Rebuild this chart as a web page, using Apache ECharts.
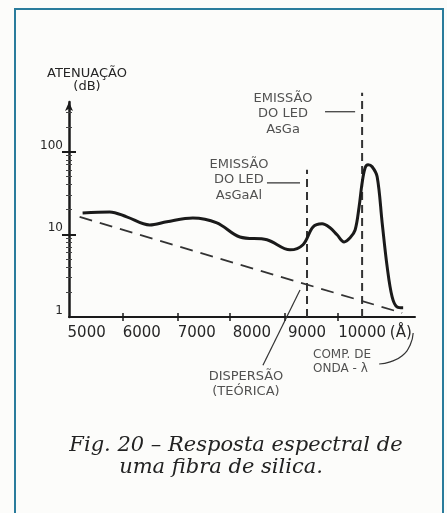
<!DOCTYPE html>
<html><head><meta charset="utf-8">
<script src="https://cdn.jsdelivr.net/npm/echarts@6/dist/echarts.min.js"></script>
<style>
html,body{margin:0;padding:0;background:#fcfcfa;}
#wrap{position:relative;width:447px;height:513px;overflow:hidden;background:#fcfcfa;}
#chart{position:absolute;left:0;top:0;width:447px;height:513px;}
#frame{position:absolute;left:14px;top:8px;width:426px;height:520px;border:2px solid #2a7c9c;border-bottom:none;pointer-events:none;}
</style></head>
<body><div id="wrap"><div id="chart"></div><div id="frame"></div></div>
<script>
// ---- data ----
const xLabels = [5000, 6000, 7000, 8000, 9000, 10000];
const xTickValues = [5650, 6650, 7600, 8600, 9550];
const yLabels = [1, 10, 100];
const yMajorTicks = [10, 100];
const yMinorTicks = [2,3,4,5,6,7,8,9,20,30,40,50,60,70,80,90,200,300];
const wavelength = [4927, 5418, 5727, 6145, 6455, 6927, 7364, 7782, 8273, 8691, 8927, 9109, 9273, 9418, 9545, 9673, 9782, 9873, 9945, 10000, 10055, 10109, 10182, 10273, 10364, 10455, 10545, 10636, 10745];
const attenuation = [18.2, 18.7, 16.3, 13.0, 14.2, 15.8, 13.8, 9.3, 8.6, 6.5, 7.5, 12.3, 13.4, 12.0, 9.9, 8.1, 9.1, 11.3, 21.5, 42, 64, 69.6, 65.8, 49.8, 13.8, 4.04, 1.75, 1.32, 1.29];
const dispersionX = [4873, 10727];
const dispersionY = [16.3, 1.12];
const ledAsGaAlX = [9000, 9000];
const ledAsGaAlY = [1, 60.5];
const ledAsGaX = [10000, 10000];
const ledAsGaY = [1, 519];
const leaderAsGaX = [9327, 9873];
const leaderAsGaY = [305, 305];
const leaderAsGaAlX = [8273, 8873];
const leaderAsGaAlY = [42, 42];
const leaderDispX = [8873, 8200];
const leaderDispY = [2.12, 0.26];
const leaderCompX = [10927, 10873, 10727, 10509, 10309];
const leaderCompY = [0.64, 0.46, 0.34, 0.286, 0.27];
const annoText = ['EMISSÃO\nDO LED\nAsGa', 'EMISSÃO\nDO LED\nAsGaAl', 'DISPERSÃO\n(TEÓRICA)', 'COMP. DE\nONDA - λ'];
const annoX = [8564, 7764, 7891, 9109];
const annoY = [289, 45.8, 0.154, 0.285];

const zip = (a, b) => a.map((v, i) => [v, b[i]]);
const INK = '#1a1a1a', TXT = '#262626', SANS = 'DejaVu Sans';

const chart = echarts.init(document.getElementById('chart'), null, {renderer: 'canvas'});
const lineBase = (name, xs, ys, style, extra) => Object.assign({
  type: 'line', name, data: zip(xs, ys), showSymbol: false, symbol: 'none', clip: false,
  lineStyle: style, silent: true, animation: false, z: 3
}, extra || {});

const annoAlign = ['center', 'center', 'center', 'left'];
const annoSize = [13, 13, 13, 12];

chart.setOption({
  animation: false,
  backgroundColor: 'transparent',
  title: [
    {text: 'Fig. 20 – Resposta espectral de', left: 231, top: 430, textAlign: 'center',
     textStyle: {fontFamily: 'DejaVu Serif', fontStyle: 'italic', fontWeight: 'normal', fontSize: 21, color: '#222'}},
    {text: 'uma fibra de silica.', left: 216, top: 452, textAlign: 'center',
     textStyle: {fontFamily: 'DejaVu Serif', fontStyle: 'italic', fontWeight: 'normal', fontSize: 21, color: '#222'}}
  ],
  grid: {left: 69, right: 32, top: 102, bottom: 196},
  xAxis: [{
    type: 'value', min: 4680, max: 10960, position: 'bottom',
    axisLine: {show: true, lineStyle: {color: INK, width: 2}},
    axisTick: {show: true, customValues: xTickValues, length: 4, lineStyle: {color: INK, width: 1.5}},
    axisLabel: {customValues: xLabels, formatter: v => String(v), margin: 9, fontFamily: SANS, fontSize: 15, color: TXT},
    splitLine: {show: false},
    name: '(Å)', nameLocation: 'end', nameGap: -5,
    nameTextStyle: {align: 'right', verticalAlign: 'top', padding: [9, 0, 0, 0], fontFamily: SANS, fontSize: 15, color: TXT}
  }, {
    type: 'value', min: 4680, max: 10960, position: 'bottom',
    axisLine: {show: false},
    axisTick: {show: true, inside: true, customValues: xTickValues, length: 4, lineStyle: {color: INK, width: 1.5}},
    axisLabel: {show: false}, splitLine: {show: false}
  }],
  yAxis: [{
    type: 'log', logBase: 10, min: 1, max: 400, position: 'left',
    axisLine: {show: true, symbol: ['none', 'arrow'], symbolSize: [6, 9], lineStyle: {color: INK, width: 2.5}},
    axisTick: {show: true, customValues: yMajorTicks, length: 7, lineStyle: {color: INK, width: 2}},
    axisLabel: {customValues: yLabels, formatter: v => String(v), margin: 6, verticalAlign: 'bottom', fontFamily: SANS, fontSize: 12, color: TXT},
    splitLine: {show: false},
    name: 'ATENUAÇÃO\n(dB)', nameLocation: 'end', nameGap: 9,
    nameTextStyle: {align: 'center', padding: [0, 0, 0, 36], fontFamily: SANS, fontSize: 13, lineHeight: 13, color: TXT}
  }, {
    type: 'log', logBase: 10, min: 1, max: 400, position: 'left',
    axisLine: {show: false},
    axisTick: {show: true, inside: true, customValues: yMajorTicks, length: 7, lineStyle: {color: INK, width: 2}},
    axisLabel: {show: false}, splitLine: {show: false}
  }, {
    type: 'log', logBase: 10, min: 1, max: 400, position: 'left',
    axisLine: {show: false},
    axisTick: {show: true, customValues: yMinorTicks, length: 3, lineStyle: {color: '#444', width: 1}},
    axisLabel: {show: false}, splitLine: {show: false}
  }, {
    type: 'log', logBase: 10, min: 1, max: 400, position: 'left',
    axisLine: {show: false},
    axisTick: {show: true, inside: true, customValues: yMinorTicks, length: 3, lineStyle: {color: '#444', width: 1}},
    axisLabel: {show: false}, splitLine: {show: false}
  }],
  series: [
    lineBase('Atenuação', wavelength, attenuation, {color: INK, width: 3}, {smooth: 0.35, z: 4}),
    lineBase('Dispersão (teórica)', dispersionX, dispersionY, {color: '#333', width: 1.8, type: [13, 8]}),
    lineBase('LED AsGaAl', ledAsGaAlX, ledAsGaAlY, {color: '#333', width: 2, type: [8, 5]}),
    lineBase('LED AsGa', ledAsGaX, ledAsGaY, {color: '#333', width: 2, type: [8, 5]}),
    lineBase('leader AsGa', leaderAsGaX, leaderAsGaY, {color: '#333', width: 1.2}),
    lineBase('leader AsGaAl', leaderAsGaAlX, leaderAsGaAlY, {color: '#333', width: 1.2}),
    lineBase('leader dispersão', leaderDispX, leaderDispY, {color: '#333', width: 1.2}),
    lineBase('leader comp', leaderCompX, leaderCompY, {color: '#333', width: 1.2}, {smooth: 0.5}),
    {
      type: 'scatter', name: 'anotações', symbolSize: 0, clip: false, silent: true, z: 5,
      data: annoText.map((t, i) => ({
        value: [annoX[i], annoY[i]],
        label: {show: true, position: 'inside', formatter: t, align: annoAlign[i], verticalAlign: 'middle',
                fontFamily: SANS, fontSize: annoSize[i], lineHeight: annoSize[i] + 2.5, color: TXT}
      }))
    }
  ]
});
</script></body></html>
